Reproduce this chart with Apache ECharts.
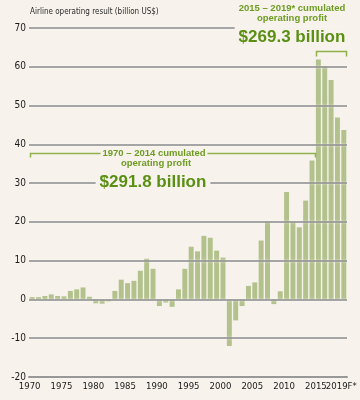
<!DOCTYPE html>
<html>
<head>
<meta charset="utf-8">
<script src="https://cdn.jsdelivr.net/npm/echarts@6/dist/echarts.min.js"></script>
<style>
html,body{margin:0;padding:0;background:#f7f3ec;overflow:hidden;}
#c{width:360px;height:400px;}
</style>
</head>
<body>
<div id="c"></div>
<script>
const years = ['1970','1971','1972','1973','1974','1975','1976','1977','1978','1979',
  '1980','1981','1982','1983','1984','1985','1986','1987','1988','1989',
  '1990','1991','1992','1993','1994','1995','1996','1997','1998','1999',
  '2000','2001','2002','2003','2004','2005','2006','2007','2008','2009',
  '2010','2011','2012','2013','2014','2015','2016','2017','2018','2019F*'];
const profit = [0.6,0.6,0.9,1.3,0.9,0.8,2.2,2.6,3.1,0.7,
  -1.0,-1.1,-0.5,2.2,5.1,4.2,4.8,7.4,10.5,7.9,
  -1.7,-0.8,-1.9,2.6,7.9,13.6,12.4,16.4,15.9,12.6,
  10.8,-12.0,-5.4,-1.7,3.5,4.4,15.2,20.1,-1.2,2.1,
  27.7,20.1,18.6,25.5,35.8,61.9,60.2,56.6,46.9,43.7];
const xTickLabels = ['1970','1975','1980','1985','1990','1995','2000','2005','2010','2015','2019F*'];
const yMin = -20, yMax = 70, yStep = 10;
const axisTitle = 'Airline operating result (billion US$)';
const note1 = ['1970 – 2014 cumulated', 'operating profit', '$291.8 billion'];
const note2 = ['2015 – 2019* cumulated', 'operating profit', '$269.3 billion'];
const bracket1 = {from:'1970', to:'2014', level:37.7};
const bracket2 = {from:'2015', to:'2019F*', level:64};

const BG = '#f7f3ec';
const NARROW = '"Liberation Sans Narrow","Arial Narrow","DejaVu Sans Condensed",sans-serif';
const chart = echarts.init(document.getElementById('c'), null, {renderer:'canvas', width:360, height:400});
chart.setOption({
  backgroundColor: BG,
  animation: false,
  grid: {left: 29, right: 13, top: 28, bottom: 23, containLabel: false, outerBoundsMode: 'none'},
  xAxis: {
    type: 'category', data: years, boundaryGap: true,
    axisTick: {show: false},
    axisLine: {show: true, onZero: false, lineStyle: {color: '#8c8c8c', width: 2}},
    axisLabel: {
      interval: 0,
      formatter: v => (xTickLabels.indexOf(v) >= 0 ? v : ''),
      hideOverlap: false,
      padding: [0, 5, 0, 0],
      color: '#1a1a1a', fontFamily: NARROW, fontSize: 9.5, margin: 5
    }
  },
  yAxis: {
    type: 'value', min: yMin, max: yMax, interval: yStep, z: 3,
    axisLine: {show: false}, axisTick: {show: false},
    axisLabel: {color: '#1a1a1a', fontFamily: NARROW, fontSize: 10, margin: 3},
    splitLine: {lineStyle: {color: '#8a8a8a', width: 1.5, shadowColor: 'rgba(255,255,255,0.9)', shadowBlur: 2}}
  },
  series: [{
    type: 'bar', data: profit, z: 2,
    barCategoryGap: '22%',
    itemStyle: {color: '#b3c28c'}
  }]
});

function px(cat, v){ return chart.convertToPixel({xAxisIndex:0, yAxisIndex:0}, [cat, v]); }
const half = 2.6;
function bracket(b, tick){
  const a = px(b.from, b.level), c = px(b.to, b.level);
  const l = Math.round(a[0] - half) + 0.5, r = Math.round(c[0] + half) + 0.5, y = Math.round(a[1]) + 0.5;
  return {type:'polyline', z: 5, shape:{points:[[l, y+tick],[l, y],[r, y],[r, y+tick]]},
    style:{stroke:'#8fb04a', lineWidth:1.5, fill:null}};
}
function txt(t, x, y, font, color, pad){
  return {type:'text', z: 10, style:{text:t, x:x, y:y, align:'center', verticalAlign:'middle',
    font:font, fill:color, backgroundColor:BG, padding:pad}};
}
const b1 = px(bracket1.from, bracket1.level);
const SMALL = 'bold 9.5px "Liberation Sans",Arial,sans-serif';
const BIG = 'bold 17px "Liberation Sans",Arial,sans-serif';
const C1 = '#6e9b22', C2 = '#5b8f14';
chart.setOption({graphic: [
  {type:'text', z: 10, style:{text: axisTitle, x: 30, y: 12, align:'left', verticalAlign:'middle',
    font: '8px ' + NARROW, fill:'#2a2a2a'}},
  bracket(bracket1, 4),
  bracket(bracket2, 5),
  txt(note1[0], 154, b1[1], SMALL, C1, [0,2]),
  txt(note1[1], 156, b1[1] + 10, SMALL, C1, [0,2]),
  txt(note1[2], 153, 182, BIG, C2, [1,4]),
  txt(note2[0], 292, 8, SMALL, C1, [0,2]),
  txt(note2[1], 292, 18, SMALL, C1, [0,2]),
  txt(note2[2], 292, 37.5, BIG, C2, [2,4])
]});
</script>
</body>
</html>
